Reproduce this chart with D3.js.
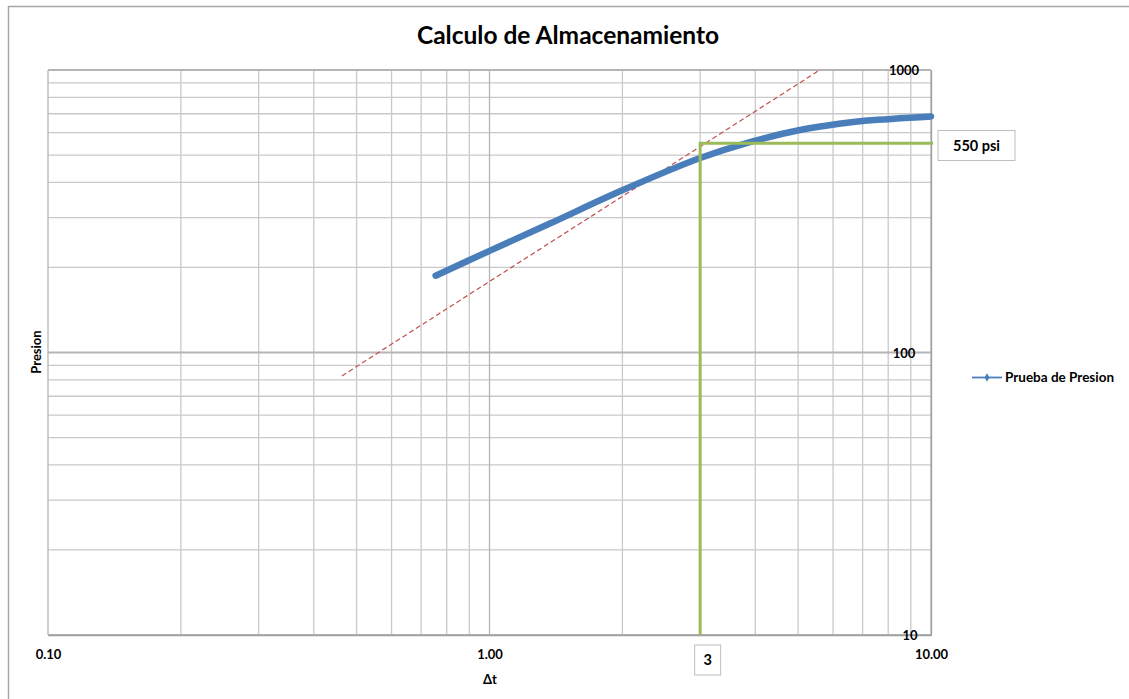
<!DOCTYPE html>
<html><head><meta charset="utf-8">
<script src="https://cdn.jsdelivr.net/npm/d3@7"></script>
<style>
html,body{margin:0;padding:0;background:#fff;}
svg{display:block;font-family:Lato,"Open Sans",sans-serif;}
</style></head>
<body>
<svg id="c" width="1129" height="699"></svg>
<script>
// Data
const chartTitle = "Calculo de Almacenamiento";
const seriesName = "Prueba de Presion";
const deltaT   = [0.755, 1.0, 1.37, 1.975, 3.0, 3.89, 5.05, 6.19, 7.16, 10.0];
const presion  = [187,   229, 286,  372,   488, 556,  613,  645,  662,  685];
const tangentT = [0.463, 5.6];
const tangentP = [82.6, 1000];
const storageT = 3;
const storageP = 550;
const xTickValues = [0.1, 1, 10];
const xTickLabels = ["0.10", "1.00", "10.00"];
const yTickValues = [10, 100, 1000];
const yTickLabels = ["10", "100", "1000"];

const svg = d3.select("#c");
const L = 48, R = 931, T = 70, B = 635;
const x = d3.scaleLog().domain([0.1, 10]).range([L, R]);
const y = d3.scaleLog().domain([10, 1000]).range([B, T]);

// outer frame (top and left edges visible)
svg.append("line").attr("x1",8).attr("x2",1129).attr("y1",6.5).attr("y2",6.5).attr("stroke","#a6a6a6").attr("stroke-width",1.5);
svg.append("line").attr("x1",8.5).attr("x2",8.5).attr("y1",6).attr("y2",699).attr("stroke","#a6a6a6").attr("stroke-width",1.5);

// title
svg.append("text").attr("x",568).attr("y",44).attr("text-anchor","middle")
  .attr("font-size",24.5).attr("font-weight","bold").attr("fill","#000").text(chartTitle);

// grid
const minorX = [], minorY = [];
[0.1, 1].forEach(d => { for (let k = 2; k <= 9; k++) minorX.push(d * k); });
[10, 100].forEach(d => { for (let k = 2; k <= 9; k++) minorY.push(d * k); });
const g = svg.append("g");
g.selectAll(".vx").data(minorX).join("line")
  .attr("x1", d => x(d)).attr("x2", d => x(d)).attr("y1", T).attr("y2", B)
  .attr("stroke", "#c9c9c9").attr("stroke-width", 1.3);
g.selectAll(".hy").data(minorY).join("line")
  .attr("y1", d => y(d)).attr("y2", d => y(d)).attr("x1", L).attr("x2", R)
  .attr("stroke", "#c9c9c9").attr("stroke-width", 1.3);
g.selectAll(".vmaj").data(xTickValues).join("line")
  .attr("x1", d => x(d)).attr("x2", d => x(d)).attr("y1", T).attr("y2", B)
  .attr("stroke", "#b5b5b5").attr("stroke-width", 1.3);
g.selectAll(".hmaj").data(yTickValues).join("line")
  .attr("y1", d => y(d)).attr("y2", d => y(d)).attr("x1", L).attr("x2", R)
  .attr("stroke", "#b5b5b5").attr("stroke-width", 2);

// x tick labels (via axis)
const xAxis = d3.axisBottom(x).tickValues(xTickValues).tickSize(0)
  .tickFormat((d, i) => xTickLabels[i]);
const xa = svg.append("g").attr("transform", `translate(0,${B})`).call(xAxis);
xa.select(".domain").attr("stroke", "#9f9f9f").attr("stroke-width", 1.3);
xa.selectAll("text").attr("dy", 0).attr("y", 24).attr("font-size", 13).attr("font-weight", "bold")
  .attr("fill", "#000").attr("font-family", "Lato,sans-serif");

// y tick labels (inside, right)
const yAxis = d3.axisRight(y).tickValues(yTickValues).tickSize(0)
  .tickFormat((d, i) => yTickLabels[i]);
const ya = svg.append("g").attr("transform", `translate(${R},0)`).call(yAxis);
ya.select(".domain").attr("stroke", "#9f9f9f").attr("stroke-width", 1.3);
ya.selectAll("text").attr("x", d => d === 10 ? -21 : -27).attr("text-anchor", "middle").attr("dy", "0.35em")
  .attr("font-size", 13).attr("font-weight", "bold").attr("fill", "#000").attr("font-family", "Lato,sans-serif");

// axis titles
svg.append("text").attr("x", 490).attr("y", 684).attr("text-anchor", "middle")
  .attr("font-size", 13).attr("font-weight", "bold").text("Δt");
svg.append("text").attr("transform", "translate(41,352) rotate(-90)").attr("text-anchor", "middle")
  .attr("font-size", 13).attr("font-weight", "bold").text("Presion");

// tangent dashed line
svg.append("path").datum(tangentT.map((t, i) => [t, tangentP[i]]))
  .attr("d", d3.line().x(d => x(d[0])).y(d => y(d[1])))
  .attr("fill", "none").attr("stroke", "#C0504D").attr("stroke-width", 1.2).attr("stroke-dasharray", "5,3");

// data series
const pts = deltaT.map((t, i) => [t, presion[i]]);
svg.append("path").datum(pts)
  .attr("d", d3.line().x(d => x(d[0])).y(d => y(d[1])).curve(d3.curveCatmullRom.alpha(0.5)))
  .attr("fill", "none").attr("stroke", "#4A7EBB").attr("stroke-width", 6.5).attr("stroke-linecap", "round");

// green storage guides
svg.append("path")
  .attr("d", `M${x(storageT)},${B}V${y(storageP)}H${R + 2}`)
  .attr("fill", "none").attr("stroke", "#9BBB59").attr("stroke-width", 3);

// annotation boxes
function box(cx, cy, w, h, txt) {
  svg.append("rect").attr("x", cx - w / 2).attr("y", cy - h / 2).attr("width", w).attr("height", h)
    .attr("fill", "#fff").attr("stroke", "#bfbfbf").attr("stroke-width", 1);
  svg.append("text").attr("x", cx).attr("y", cy).attr("dy", "0.35em").attr("text-anchor", "middle")
    .attr("font-size", 14.5).attr("font-weight", "bold").text(txt);
}
box(976.5, 145.5, 77, 30, storageP + " psi");
box(x(storageT) + 7.5, 660, 26, 30, String(storageT));

// legend
const lg = svg.append("g");
lg.append("line").attr("x1", 972).attr("x2", 1002).attr("y1", 377.5).attr("y2", 377.5)
  .attr("stroke", "#4A7EBB").attr("stroke-width", 1.8);
lg.append("path").attr("d", d3.symbol().type(d3.symbolDiamond).size(22)())
  .attr("transform", "translate(987,377.5)").attr("fill", "#4A7EBB");
lg.append("text").attr("x", 1005).attr("y", 377.5).attr("dy", "0.35em")
  .attr("font-size", 13.5).attr("font-weight", "bold").text(seriesName);
</script>
</body></html>
